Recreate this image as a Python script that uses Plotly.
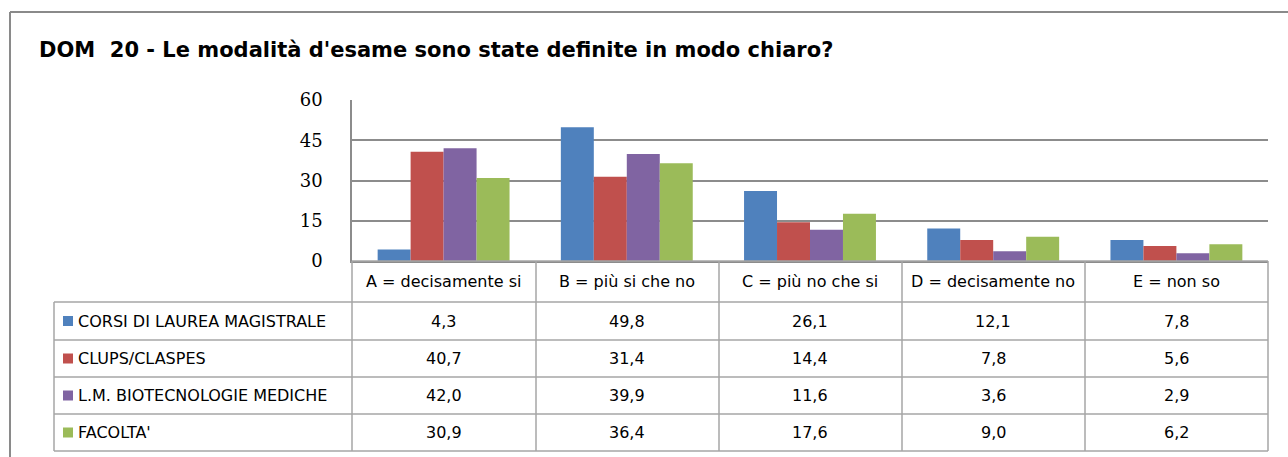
import plotly.graph_objects as go

# data
categories = ["A = decisamente si", "B = più si che no", "C = più no che si",
              "D = decisamente no", "E = non so"]
series_names = ["CORSI DI LAUREA MAGISTRALE", "CLUPS/CLASPES",
                "L.M. BIOTECNOLOGIE MEDICHE", "FACOLTA'"]
corsi_lm = [4.3, 49.8, 26.1, 12.1, 7.8]
clups = [40.7, 31.4, 14.4, 7.8, 5.6]
biotec = [42.0, 39.9, 11.6, 3.6, 2.9]
facolta = [30.9, 36.4, 17.6, 9.0, 6.2]
y_ticks = [0, 15, 30, 45, 60]

series_values = [corsi_lm, clups, biotec, facolta]
colors = ["#4F81BD", "#C0504D", "#8064A2", "#9BBB59"]

W, H = 1288, 457
TXT = "DejaVu Sans"


def px(x):
    return x / W


def py(y):
    return 1 - y / H


fig = go.Figure()
for name, vals, col in zip(series_names, series_values, colors):
    fig.add_trace(go.Bar(x=categories, y=vals, name=name, marker_color=col,
                         marker_line_width=0))

# plot area in pixels
left, right, top, bottom = 352, 1268, 100, 261
row_lines = [261, 302, 340, 377, 414, 451]
col_lines = [352, 536, 719, 902, 1085, 1268]
grid_col = "#8c8c8c"
tab_col = "#a6a6a6"

shapes = []
# table horizontal lines
for i, yl in enumerate(row_lines):
    x0 = left if i == 0 else 54
    shapes.append(dict(type="line", xref="paper", yref="paper", x0=px(x0), x1=px(right),
                       y0=py(yl), y1=py(yl), line=dict(color=tab_col, width=1.5)))
# table vertical lines
for xl in col_lines:
    shapes.append(dict(type="line", xref="paper", yref="paper", x0=px(xl), x1=px(xl),
                       y0=py(261), y1=py(451), line=dict(color=tab_col, width=1.5)))
shapes.append(dict(type="line", xref="paper", yref="paper", x0=px(54), x1=px(54),
                   y0=py(302), y1=py(451), line=dict(color=tab_col, width=1.5)))
# outer chart frame
shapes.append(dict(type="line", xref="paper", yref="paper", x0=px(10), x1=1,
                   y0=py(12), y1=py(12), line=dict(color="#8a8a8a", width=2)))
shapes.append(dict(type="line", xref="paper", yref="paper", x0=px(10), x1=px(10),
                   y0=py(12), y1=0, line=dict(color="#8a8a8a", width=2)))

annotations = [dict(text="DOM  20 - Le modalità d'esame sono state definite in modo chiaro?",
                    xref="paper", yref="paper", x=px(37), y=py(50), xanchor="left",
                    yanchor="middle", showarrow=False,
                    font=dict(family=TXT, size=21, weight="bold", color="#000000"))]

# header row with category names
for cat in categories:
    annotations.append(dict(text=cat, xref="x", yref="paper", x=cat,
                            y=py((row_lines[0] + row_lines[1]) / 2), yanchor="middle",
                            showarrow=False,
                            font=dict(family=TXT, size=16, color="#000000")))

# legend column + values
for r, (name, vals, col) in enumerate(zip(series_names, series_values, colors)):
    yc = (row_lines[r + 1] + row_lines[r + 2]) / 2
    shapes.append(dict(type="rect", xref="paper", yref="paper", x0=px(63), x1=px(73),
                       y0=py(yc + 5), y1=py(yc - 5), fillcolor=col, line_width=0))
    annotations.append(dict(text=name, xref="paper", yref="paper", x=px(76), y=py(yc),
                            xanchor="left", yanchor="middle", showarrow=False,
                            font=dict(family=TXT, size=16, color="#000000")))
    for cat, v in zip(categories, vals):
        annotations.append(dict(text=f"{v:.1f}".replace(".", ","), xref="x", yref="paper",
                                x=cat, y=py(yc), yanchor="middle", showarrow=False,
                                font=dict(family=TXT, size=16, color="#000000")))

fig.update_layout(
    template="none",
    width=W, height=H,
    margin=dict(l=0, r=0, t=0, b=0, pad=0, autoexpand=False),
    paper_bgcolor="white", plot_bgcolor="white",
    barmode="group", bargap=0.28, bargroupgap=0,
    showlegend=False,
    shapes=shapes, annotations=annotations,
    xaxis=dict(domain=[px(left), px(right)], showticklabels=False, ticks="",
               automargin=False, showgrid=False, showline=True, linecolor=grid_col,
               linewidth=1.5),
    yaxis=dict(domain=[py(bottom), py(top)], range=[0, 60], tickvals=y_ticks,
               automargin=False, showgrid=True, gridcolor=grid_col, gridwidth=1.5,
               zeroline=False, showline=True, linecolor=grid_col, linewidth=1.5,
               ticks="", ticklabelstandoff=24,
               tickfont=dict(family="DejaVu Serif", size=18, color="#000000")),
)

fig.write_html("out.html", config={"displayModeBar": False},
               post_script="document.body.style.margin='0';")
